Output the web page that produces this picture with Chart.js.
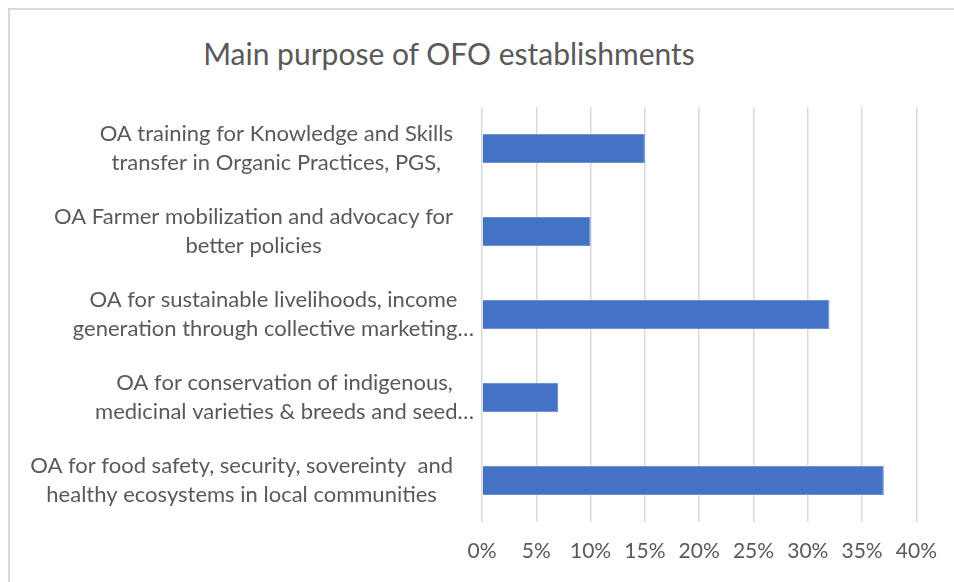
<!DOCTYPE html>
<html lang="en">
<head>
    <meta charset="UTF-8">
    <title>Main purpose of OFO establishments</title>
    <script src="https://cdn.jsdelivr.net/npm/chart.js@4"></script>
    <style>
        html, body { margin: 0; padding: 0; background: #fff; }
        #wrap { position: relative; width: 954px; height: 582px; overflow: hidden; }
        #frame { position: absolute; left: 8px; top: 8px; right: -10px; bottom: -10px;
                 border-left: 2px solid #d9d9d9; border-top: 2px solid #d9d9d9; }
        #title { position: absolute; left: 0; width: 898px; top: 38px; text-align: center;
                 font: 30px Lato, "Open Sans", sans-serif; line-height: 30px; color: #595959; }
        canvas { position: absolute; left: 0; top: 0; }
    </style>
</head>
<body>
<div id="wrap">
    <div id="frame"></div>
    <div id="title">Main purpose of OFO establishments</div>
    <canvas id="purposeChart" width="954" height="582"></canvas>
</div>

<script>
    // categories, top to bottom (each entry is the wrapped label lines)
    const categories = [
        ['OA training for Knowledge and Skills', 'transfer in Organic Practices, PGS,'],
        ['OA Farmer mobilization and advocacy for', 'better policies'],
        ['OA for sustainable livelihoods, income', 'generation through collective marketing…'],
        ['OA for conservation of indigenous,', 'medicinal varieties & breeds and seed…'],
        ['OA for food safety, security, sovereinty  and', 'healthy ecosystems in local communities']
    ];
    const shares = [15, 10, 32, 7, 37];
    const xTicks = [0, 5, 10, 15, 20, 25, 30, 35, 40];

    const labelFont = '22px Lato, "Open Sans", sans-serif';

    // Excel-style category labels: lines centred inside a right-aligned block
    const categoryLabels = {
        id: 'categoryLabels',
        afterDraw(chart) {
            const ctx = chart.ctx;
            const y = chart.scales.y;
            ctx.save();
            ctx.font = labelFont;
            ctx.fillStyle = '#595959';
            ctx.textAlign = 'center';
            ctx.textBaseline = 'middle';
            const lh = 29.5;
            categories.forEach((lines, i) => {
                const yc = y.getPixelForValue(i);
                const w = Math.max(...lines.map(l => ctx.measureText(l).width));
                const right = lines.some(l => l.endsWith('…')) ? 474 : 453;
                const cx = right - w / 2;
                lines.forEach((l, j) => {
                    ctx.fillText(l, cx, yc + (j - (lines.length - 1) / 2) * lh);
                });
            });
            ctx.restore();
        }
    };

    new Chart(document.getElementById('purposeChart'), {
        type: 'bar',
        data: {
            labels: categories,
            datasets: [{
                data: shares,
                backgroundColor: '#4472c4',
                borderColor: '#6f93d3',
                borderWidth: 1,
                barPercentage: 0.35,
                categoryPercentage: 1
            }]
        },
        options: {
            indexAxis: 'y',
            responsive: false,
            animation: false,
            layout: { padding: { left: 0, right: 35, top: 107, bottom: 0 } },
            plugins: { legend: { display: false }, tooltip: { enabled: false } },
            scales: {
                x: {
                    min: 0,
                    max: 40,
                    afterBuildTicks: s => { s.ticks = xTicks.map(v => ({ value: v })); },
                    afterFit: s => { s.height = 60; },
                    grid: { color: '#d9d9d9', lineWidth: 1.5, drawTicks: false },
                    border: { display: false },
                    ticks: {
                        padding: 17,
                        color: '#595959',
                        font: { family: 'Lato, "Open Sans", sans-serif', size: 21 },
                        maxRotation: 0,
                        callback: v => v + '%'
                    }
                },
                y: {
                    afterFit: s => { s.width = 482; },
                    grid: { display: false },
                    border: { display: false },
                    ticks: { display: false }
                }
            }
        },
        plugins: [categoryLabels]
    });
</script>
</body>
</html>
